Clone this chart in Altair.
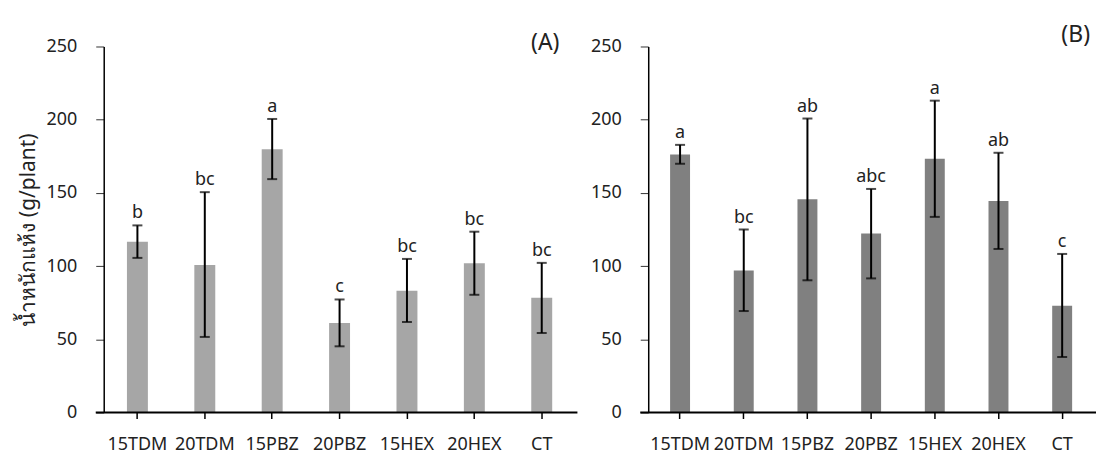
import altair as alt
import pandas as pd

categories = ["15TDM", "20TDM", "15PBZ", "20PBZ", "15HEX", "20HEX", "CT"]

a_mean = [116.7, 100.8, 179.8, 61.1, 83.1, 102.0, 78.3]
a_hi = [127.8, 150.5, 200.5, 77.2, 104.9, 123.5, 102.2]
a_lo = [105.6, 51.6, 159.4, 45.2, 61.8, 80.4, 54.3]
a_letters = ["b", "bc", "a", "c", "bc", "bc", "bc"]

b_mean = [176.2, 97.0, 145.6, 122.3, 173.3, 144.4, 72.9]
b_hi = [182.8, 125.0, 200.8, 152.7, 213.0, 177.4, 108.3]
b_lo = [169.9, 69.3, 90.3, 91.6, 133.6, 111.7, 37.9]
b_letters = ["a", "bc", "ab", "abc", "a", "ab", "c"]

y_ticks = [0, 50, 100, 150, 200, 250]
FONT = "Noto Sans"
FS = 18
H = 367


def panel(mean, hi, lo, letters, color, W, barsize, tag, tag_x, tag_y, title):
    df = pd.DataFrame({"cat": categories, "mean": mean, "hi": hi, "lo": lo, "lab": letters})
    x = alt.X("cat:N", sort=categories, title=None,
              scale=alt.Scale(paddingInner=0, paddingOuter=0),
              axis=alt.Axis(labelAngle=0, domain=False, ticks=True, tickSize=6,
                            tickColor="#000000", tickWidth=1.5, labelPadding=17,
                            labelFontSize=FS, labelFont=FONT, labelColor="#222222"))
    axis_kw = dict(values=y_ticks, grid=False, domainColor="#000000", domainWidth=1.5,
                   tickColor="#333333", tickSize=8, tickWidth=1, labelPadding=19,
                   labelFontSize=FS, labelFont=FONT, labelColor="#222222")
    if title:
        yaxis = alt.Axis(title=title, titleFontSize=21, titleFont=FONT,
                         titleFontWeight="normal", titleColor="#222222", titlePadding=8,
                         **axis_kw)
    else:
        yaxis = alt.Axis(title=None, **axis_kw)
    y = alt.Y("mean:Q", scale=alt.Scale(domain=[0, 250], nice=False), axis=yaxis)
    base = alt.Chart(df)
    bars = base.mark_bar(size=barsize, color=color).encode(x=x, y=y)
    err = base.mark_rule(color="#000000", strokeWidth=2).encode(
        x=alt.X("cat:N", sort=categories), y="lo:Q", y2="hi:Q")
    cap_hi = base.mark_tick(color="#000000", size=10, thickness=2, orient="horizontal").encode(
        x=alt.X("cat:N", sort=categories), y="hi:Q")
    cap_lo = base.mark_tick(color="#000000", size=10, thickness=2, orient="horizontal").encode(
        x=alt.X("cat:N", sort=categories), y="lo:Q")
    labels = base.mark_text(font=FONT, fontSize=FS, color="#222222", baseline="alphabetic",
                            dy=-7).encode(x=alt.X("cat:N", sort=categories), y="hi:Q", text="lab:N")
    xline = alt.Chart(pd.DataFrame({"v": [0]})).mark_rule(color="#000000", strokeWidth=2).encode(
        x=alt.value(-8), x2=alt.value(W + 2), y=alt.value(H))
    tag_text = alt.Chart(pd.DataFrame({"t": [tag]})).mark_text(
        font=FONT, fontSize=23, color="#222222", align="right", baseline="alphabetic").encode(
        x=alt.value(tag_x), y=alt.value(tag_y), text="t:N")
    return alt.layer(bars, err, cap_hi, cap_lo, labels, xline, tag_text).properties(width=W, height=H)


pa = panel(a_mean, a_hi, a_lo, a_letters, "#a6a6a6", 473, 21, "(A)", 457, 4,
           "น้ำหนักแห้ง (g/plant)")
pb = panel(b_mean, b_hi, b_lo, b_letters, "#808080", 447, 20, "(B)", 443, -5, None)

chart = alt.hconcat(pa, pb, spacing=73, bounds="flush").configure_view(stroke=None).properties(
    background="#ffffff", padding={"left": 17, "top": 23, "right": 0, "bottom": 0})

chart.save("out.html", embed_options={"renderer": "svg", "actions": False})
